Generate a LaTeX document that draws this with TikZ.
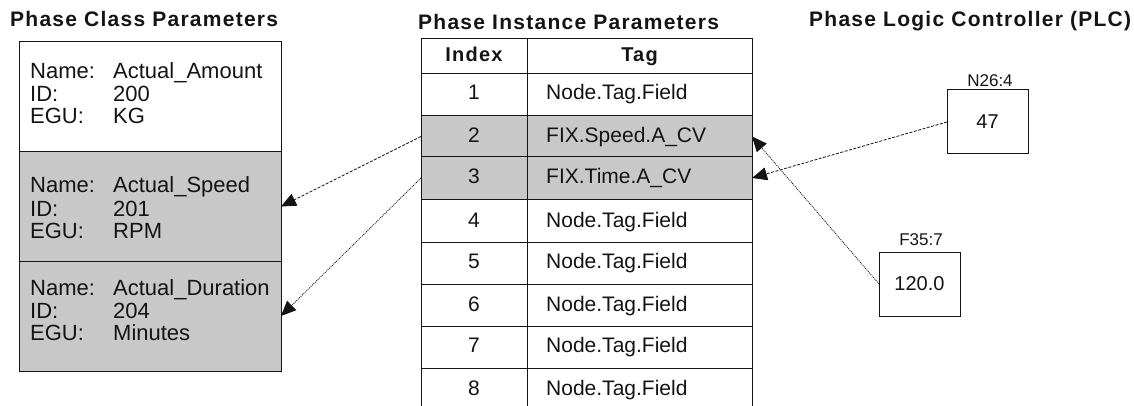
\documentclass[tikz,border=0pt]{standalone}
\usepackage{fontspec}
\setmainfont{Liberation Sans}
\newfontfamily\ttlfont{Liberation Sans}[LetterSpace=6]
\usetikzlibrary{arrows.meta}
\definecolor{cellgray}{RGB}{200,200,200}
\definecolor{ink}{RGB}{20,20,20}

\begin{document}
\begin{tikzpicture}[x=1pt,y=-1pt,
  title/.style={font=\ttlfont\bfseries\fontsize{21}{24}\selectfont, inner sep=0, anchor=base west, text=ink},
  head/.style={font=\ttlfont\bfseries\fontsize{20}{24}\selectfont, inner sep=0, anchor=base, text=ink},
  sect/.style={draw=ink, line width=1pt, minimum width=262, inner sep=0, outer sep=0, anchor=north west},
  cell/.style={draw=ink, line width=1pt, inner sep=0, outer sep=0, anchor=north west},
  body/.style={font=\fontsize{22}{24}\selectfont, inner sep=0, anchor=base west, text=ink},
  tbl/.style={font=\fontsize{21}{24}\selectfont, inner sep=0, text=ink},
  reg/.style={draw=ink, line width=1pt, minimum width=81, minimum height=64, inner sep=0, outer sep=0,
    font=\fontsize{20}{24}\selectfont, text=ink},
  addr/.style={font=\fontsize{17}{20}\selectfont, inner sep=0, anchor=base, text=ink},
  conn/.style={draw=ink, line width=0.8pt, -{Triangle[length=15pt,width=13pt]}},
  dashline/.style={dash pattern=on 3pt off 1.5pt},
  dotline/.style={dash pattern=on 1pt off 1pt},
]
\clip (0,0) rectangle (1134,406);
\fill[white] (0,0) rectangle (1134,406);

% column titles
\node[title] (tclass) at (10,27) {Phase Class Parameters};
\node[title] (tinst) at (418,30) {Phase Instance Parameters};
\node[title] (tplc) at (809,27) {Phase Logic Controller (PLC)};

% phase class parameter blocks
\node[sect, fill=white, minimum height=110] (c1) at (19,42) {};
\node[sect, fill=cellgray, minimum height=109] (c2) at (19,152) {};
\node[sect, fill=cellgray, minimum height=110] (c3) at (19,261) {};

\foreach \k/\y/\nm/\id/\egu in {1/79/Actual\_Amount/200/KG,
                                2/193/Actual\_Speed/201/RPM,
                                3/295/Actual\_Duration/204/Minutes}{
  \node[body] (nl\k) at (30,\y) {Name:};
  \node[body] (nv\k) at (113,\y) {\nm};
  \node[body] (il\k) at (30,\y+23) {ID:};
  \node[body] (iv\k) at (113,\y+23) {\id};
  \node[body] (el\k) at (30,\y+45) {EGU:};
  \node[body] (ev\k) at (113,\y+45) {\egu};
}

% phase instance parameter table
\node[cell, minimum width=106, minimum height=35] (hi) at (421,39) {};
\node[cell, minimum width=225, minimum height=35] (ht) at (527,39) {};
\node[head] (hitxt) at (474,62) {Index};
\node[head] (httxt) at (639.5,62) {Tag};

\foreach \r/\top/\h/\f in {1/74/42/white, 2/116/41/cellgray, 3/157/42/cellgray,
                           4/199/43/white, 5/242/42/white, 6/284/42/white,
                           7/326/42/white, 8/368/46/white}{
  \node[cell, fill=\f, minimum width=106, minimum height=\h] (i\r) at (421,\top) {};
  \node[cell, fill=\f, minimum width=225, minimum height=\h] (t\r) at (527,\top) {};
}

\foreach \r/\b/\s in {1/100/Node.Tag.Field, 2/143/FIX.Speed.A\_CV, 3/184/FIX.Time.A\_CV,
                      4/227/Node.Tag.Field, 5/268/Node.Tag.Field, 6/311/Node.Tag.Field,
                      7/352/Node.Tag.Field, 8/395/Node.Tag.Field}{
  \node[tbl, anchor=base] (ix\r) at (474,\b) {\r};
  \node[tbl, anchor=base west] (tg\r) at (546,\b) {\s};
}

% PLC registers
\node[reg, anchor=north west] (n26) at (947,90) {47};
\node[addr] (n26lbl) at (990,87) {N26:4};
\node[reg, anchor=north west] (f35) at (879,252) {120.0};
\node[addr] (f35lbl) at (921,245) {F35:7};

% data links
\draw[conn, dashline] (n26.west) -- (t3.east);
\draw[conn, dotline] (f35.west) -- (t2.east);
\draw[conn, dashline] (i2.west) -- (c2.east);
\draw[conn, dotline] (i3.west) -- (c3.east);
\end{tikzpicture}
\end{document}
